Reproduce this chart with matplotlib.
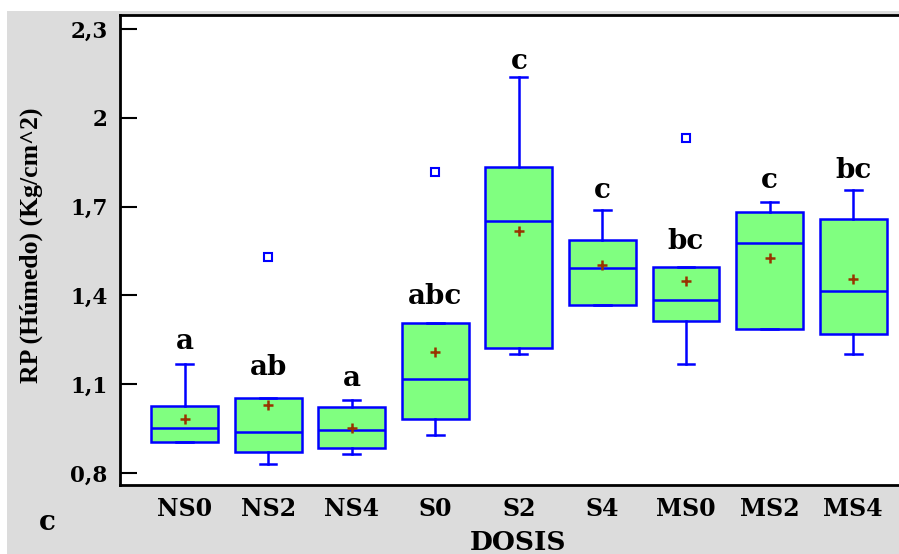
import numpy as np
import matplotlib.pyplot as plt
from matplotlib.patches import Rectangle

# groups (DOSIS) and box statistics
groups = ["NS0", "NS2", "NS4", "S0", "S2", "S4", "MS0", "MS2", "MS4"]
whishi = [1.168, 1.052, 1.047, 1.308, 2.137, 1.689, 1.496, 1.717, 1.757]
q3 = [1.027, 1.052, 1.023, 1.308, 1.834, 1.588, 1.496, 1.682, 1.658]
med = [0.953, 0.940, 0.945, 1.116, 1.652, 1.492, 1.384, 1.577, 1.414]
q1 = [0.906, 0.872, 0.883, 0.982, 1.221, 1.369, 1.315, 1.286, 1.269]
whislo = [0.906, 0.831, 0.865, 0.929, 1.203, 1.369, 1.168, 1.286, 1.203]
means = [0.982, 1.029, 0.953, 1.209, 1.618, 1.503, 1.449, 1.525, 1.454]
outliers = [[], [1.530], [], [1.817], [], [], [1.933], [], []]

# significance letters and their heights
letters = ["a", "ab", "a", "abc", "c", "c", "bc", "c", "bc"]
letter_y = [1.219, 1.131, 1.095, 1.370, 2.165, 1.729, 1.556, 1.764, 1.798]

yticks = [0.8, 1.1, 1.4, 1.7, 2.0, 2.3]
ytick_labels = ["0,8", "1,1", "1,4", "1,7", "2", "2,3"]

hfont = "DejaVu Serif"
vfont = "Liberation Serif"
blue = "#0000FF"
green = "#80FF80"

fig = plt.figure(figsize=(8.99, 5.54), dpi=100, facecolor="white")
# gray panel behind the plot
fig.patches.append(Rectangle((7 / 899, 0), 1, (554 - 11) / 554,
                             transform=fig.transFigure, facecolor="#DCDCDC",
                             edgecolor="none", zorder=-10))

ax = fig.add_axes([120 / 899, 69 / 554, 1.002 - 120 / 899, 470 / 554])
ax.set_facecolor("white")

stats = []
for i in range(len(groups)):
    stats.append(dict(med=med[i], q1=q1[i], q3=q3[i], whislo=whislo[i],
                      whishi=whishi[i], mean=means[i], fliers=outliers[i],
                      label=groups[i]))

pos = np.arange(1, len(groups) + 1)
ax.bxp(stats, positions=pos, widths=0.8, capwidths=0.2, patch_artist=True,
       showmeans=True, showfliers=True,
       boxprops=dict(facecolor=green, edgecolor=blue, linewidth=1.8),
       medianprops=dict(color=blue, linewidth=1.8),
       whiskerprops=dict(color=blue, linewidth=1.8),
       capprops=dict(color=blue, linewidth=1.8),
       meanprops=dict(marker="+", markeredgecolor="#993300",
                      markersize=7, markeredgewidth=1.8),
       flierprops=dict(marker="s", markerfacecolor="none",
                       markeredgecolor=blue, markersize=6,
                       markeredgewidth=1.5))

for x, lab, yy in zip(pos, letters, letter_y):
    ax.text(x, yy, lab, ha="center", va="baseline", fontsize=20,
            fontweight="bold", family=hfont)

ax.set_xlim(0.228, 9.57)
ax.set_ylim(0.7595, 2.347)

ax.set_yticks(yticks)
ax.set_yticklabels(ytick_labels, fontsize=15.5, fontweight="bold",
                   family=hfont)
ax.set_xticks(pos)
ax.set_xticklabels(groups, fontsize=17, fontweight="bold", family=hfont)
ax.tick_params(axis="y", direction="in", length=12, width=1.5, pad=9)
ax.tick_params(axis="x", length=0, pad=9)

for s in ["left", "bottom", "top"]:
    ax.spines[s].set_linewidth(2)
ax.spines["right"].set_visible(False)

ax.set_xlabel("DOSIS", fontsize=19, fontweight="bold", family=hfont)
ax.xaxis.set_label_coords(0.51, -0.095)
ax.set_ylabel("RP (Húmedo) (Kg/cm^2)", fontsize=18.5, fontweight="bold",
              family=vfont)
ax.yaxis.set_label_coords(-0.098, 0.51)

fig.text(47 / 899, 1 - 522 / 554, "c", ha="center", va="center",
         fontsize=20, fontweight="bold", family=hfont)

fig.savefig("out.png", dpi=100, facecolor=fig.get_facecolor())
